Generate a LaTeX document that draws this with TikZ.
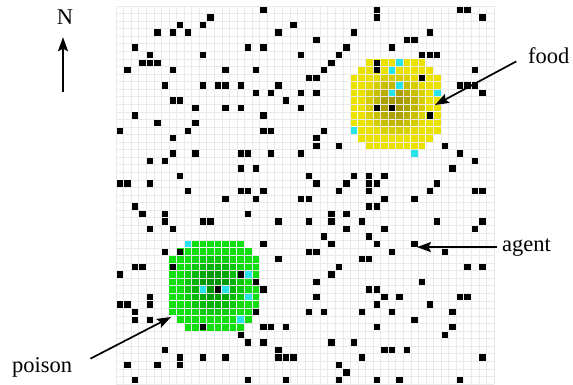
\documentclass[tikz,border=0pt]{standalone}
\usepackage{fontspec}
\setmainfont{Liberation Serif}
\usepackage{xcolor}
\usetikzlibrary{arrows.meta}
\definecolor{foodhi}{RGB}{236,226,0}
\definecolor{foodlo}{RGB}{166,154,0}
\definecolor{poisonhi}{RGB}{18,222,18}
\definecolor{poisonlo}{RGB}{0,148,0}
\definecolor{itemcyan}{RGB}{40,228,232}
\definecolor{gridline}{RGB}{234,234,234}

\begin{document}
\begin{tikzpicture}[x=1pt, y=-1pt, font=\fontsize{22.5}{27}\selectfont,
  pointer/.style={-{Stealth[length=14pt, width=10pt, inset=2.5pt]}, line width=1.7pt},
  label/.style={anchor=base west, inner sep=2pt}]
\useasboundingbox (0,0) rectangle (573,385);

% ---- world grid (50 x 50 cells) ----------------------------------------
\begin{scope}[shift={(116,6)}, x=7.56pt, y=-7.56pt]
\foreach \i in {0,...,50} {
  \draw[gridline, line width=0.6pt] (\i,0) -- (\i,50);
  \draw[gridline, line width=0.6pt] (0,\i) -- (50,\i);
}

% ---- food and poison patches -------------------------------------------
\foreach \cx/\cy/\hue in {37/13/food, 13/37/poison} {
  \foreach \i in {-6,...,5} {
    \foreach \j in {-6,...,5} {
      \pgfmathsetmacro\dist{sqrt((\i+0.5)^2+(\j+0.5)^2)}
      \pgfmathtruncatemacro\inside{\dist<6.6 ? 1 : 0}
      \pgfmathtruncatemacro\shade{min(100,max(0,(4.6-\dist)*30))}
      \ifnum\inside=1
        \fill[\hue lo!\shade!\hue hi] (\cx+\i+0.07,\cy+\j+0.07) rectangle ++(0.86,0.86);
      \fi
    }
  }
}

% ---- obstacles ---------------------------------------------------------
\foreach \r/\cols in {0/{19,34,45,46}, 1/{12,34,48}, 2/{8,11,23},
    3/{5,7,9,21,31,41}, 4/{26,38,39}, 5/{2,17,19,30,36},
    6/{4,11,24,29,40,41,42}, 7/{3,4,5,28,34}, 8/{1,7,14,18,27,34,47},
    9/{25,26,40}, 10/{6,11,13,14,16,21,45,46,47}, 11/{18,20,24,26,48},
    12/{7,8,22}, 13/{10,14,16,24,34,36}, 14/{2,19,41}, 15/{5,10},
    16/{0,9,19,20,27}, 17/{7,26}, 18/{26,29,43},
    19/{7,10,16,17,20,24,45}, 20/{4,6,47}, 21/{16,18,44},
    22/{8,25,31,33,35}, 23/{0,1,4,26,30,33,34,42},
    24/{9,16,17,19,29,33,41,47,48}, 25/{14,18,24,25,35,39}, 26/{2,33,34},
    27/{3,6,17,28,30}, 28/{6,11,12,21,25,28,32,42,48}, 29/{4,7,30,35,47},
    30/{27,33}, 31/{19,28,34,39}, 32/{6,8,25,26,36,43}, 33/{21,32,33},
    34/{2,3,7,29,46,48}, 35/{0,16,28}, 36/{18,26,40}, 37/{13,19,33,34},
    38/{4,26,35,37,45,46}, 39/{0,1,4,34,41}, 40/{2,18,25,27,32,36,44},
    41/{2,4,39}, 42/{11,19,20,22,34,44}, 43/{16,43}, 44/{17,19,28,31},
    45/{6,21,35,36,38}, 46/{8,11,14,21,22,23,32,48}, 47/{1,5,8,29},
    48/{30}, 49/{2,17,22,29,34,37,45}} {
  \foreach \c in \cols
    \fill[black] (\c+0.08,\r+0.08) rectangle ++(0.84,0.84);
}

% ---- items -------------------------------------------------------------
\foreach \c/\r in {37/7, 36/8, 37/10, 36/11, 42/11, 31/16, 39/19,
    9/31, 17/35, 11/37, 14/37, 17/38, 16/41}
  \fill[itemcyan] (\c+0.07,\r+0.07) rectangle ++(0.86,0.86);
\end{scope}

% ---- compass -----------------------------------------------------------
\node[anchor=base, inner sep=1pt] (north) at (65,25) {N};
\coordinate (northtail) at (63,92);
\draw[pointer, shorten >=11pt] (northtail) -- (northtail |- north.south);

% ---- labels ------------------------------------------------------------
\node[label] (food) at (526,64) {food};
\coordinate (foodtip) at (435,105);
\draw[pointer, shorten <=11pt] (food.west) -- (foodtip);

\node[label] (agent) at (500,251) {agent};
\coordinate (agenttip) at (417,245);
\draw[pointer, shorten <=3pt] (agent.west) -- (agenttip |- agent.west);

\node[label] (poison) at (10,372) {poison};
\coordinate (poisontip) at (171,317);
\draw[pointer, shorten <=18pt] (poison.east) -- (poisontip);
\end{tikzpicture}
\end{document}
